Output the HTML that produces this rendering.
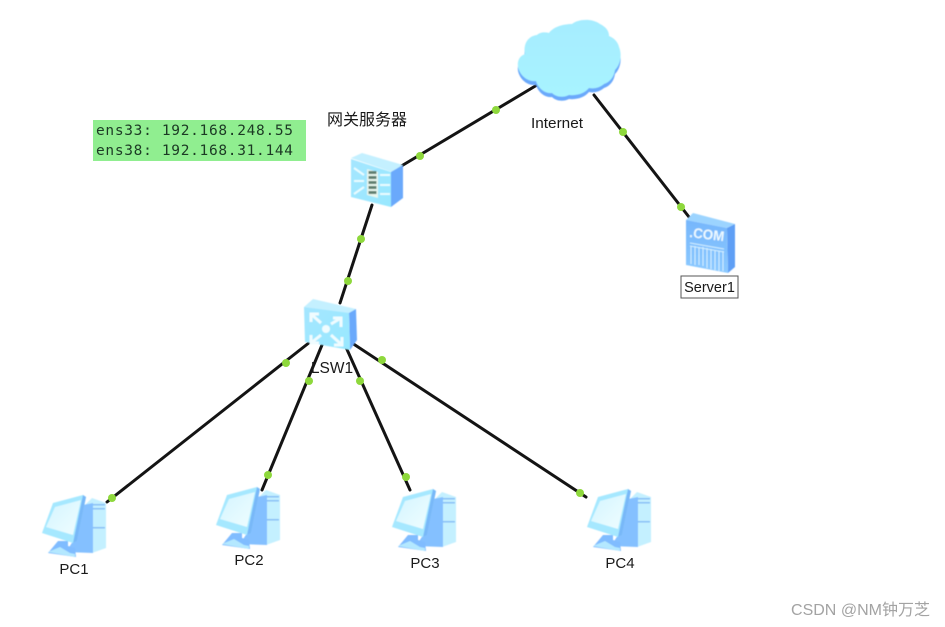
<!DOCTYPE html>
<html>
<head>
<meta charset="utf-8">
<style>
html,body{margin:0;padding:0;background:#fff;width:945px;height:627px;overflow:hidden}
svg{display:block}
text{font-family:"Liberation Sans","Noto Sans CJK SC",sans-serif;fill:#1a1a1a}
</style>
</head>
<body>
<svg width="945" height="627" viewBox="0 0 945 627" xmlns="http://www.w3.org/2000/svg">
<defs>
<linearGradient id="cl" x1="0" y1="0" x2="0" y2="1"><stop offset="0" stop-color="#a6ecff"/><stop offset="1" stop-color="#a8f4ff"/></linearGradient>
<linearGradient id="fr" x1="0" y1="0" x2="1" y2="1"><stop offset="0" stop-color="#a5e6ff"/><stop offset="1" stop-color="#98e8ff"/></linearGradient>
<linearGradient id="sv" x1="0" y1="0" x2="0" y2="1"><stop offset="0" stop-color="#76b6fc"/><stop offset="1" stop-color="#8ccaff"/></linearGradient>
<linearGradient id="scr" x1="0" y1="0" x2="1" y2="1"><stop offset="0" stop-color="#d4f5ff"/><stop offset="1" stop-color="#effdff"/></linearGradient>
<filter id="b"><feGaussianBlur stdDeviation="0.4"/></filter>
<path id="cloud" d="M518 67 C517 60 520 56 525 54 C523 44 528 36 537 35 C540 32 545 32 549 33 C553 27 563 24 572 24 C578 19 592 18 600 24 C606 27 609 31 609 36 C614 38 618 42 619 47 C622 54 621 64 615 70 C614 77 610 82 604 84 C599 88 594 89 589 88 C585 93 577 96 569 95 C563 98 556 97 552 93 C545 94 538 88 536 81 C528 82 520 76 518 67Z"/>
<g id="pc">
  <polygon points="86,504 92,498 106,503 106,548 92,553" fill="#c4f0ff"/>
  <rect x="93" y="504" width="12" height="1.500" fill="#84bdf6"/>
  <rect x="93" y="508" width="12" height="1.500" fill="#84bdf6"/>
  <rect x="93" y="527" width="12" height="1.500" fill="#84bdf6"/>
  <polygon points="83,505 93,503 93,553 66,552 75,538" fill="#84c0ff"/>
  <polygon points="58,541 68,541 68,546 75,548 76,557 48,553" fill="#80bcff"/>
  <polygon points="48,552 60,547 70,553 75,554 75,557" fill="#b4e8ff"/>
  <polygon points="53,503 83,495 86,497 77,541 73,543 42,533" fill="#a6e8ff"/>
  <polygon points="55,507 81,500 73,535 46,527" fill="url(#scr)"/>
  <polygon points="83,495 86,497 77,541 73,543" fill="#78b8f8"/>
</g>
</defs>

<rect width="945" height="627" fill="#fff"/>

<g stroke="#141414" stroke-width="3" fill="none" stroke-linecap="round">
  <line x1="398" y1="168" x2="537" y2="85"/>
  <line x1="594" y1="95" x2="689" y2="217"/>
  <line x1="372" y1="205" x2="340" y2="303"/>
  <line x1="310" y1="342" x2="107" y2="502"/>
  <line x1="322" y1="345" x2="262" y2="490"/>
  <line x1="345" y1="345" x2="410" y2="490"/>
  <line x1="352" y1="343" x2="586" y2="497"/>
</g>

<!-- Cloud -->
<g filter="url(#b)">
  <use href="#cloud" transform="translate(0,4)" fill="#6aa9fb"/>
  <use href="#cloud" fill="url(#cl)"/>
</g>

<!-- Firewall -->
<g filter="url(#b)">
  <polygon points="351,158 362,153 403,165 392,172" fill="#c4f0ff"/>
  <polygon points="391,172 403,165 403,198 391,207" fill="#6aa9fb"/>
  <polygon points="351,159 391,172 391,207 351,197" fill="url(#fr)"/>
  <polygon points="367,169 378,172 378,198 367,195" fill="#e8f6ee"/>
  <g fill="#5f7f70">
    <rect x="368.500" y="171" width="8" height="3"/><rect x="368.500" y="176" width="8" height="3"/><rect x="368.500" y="181" width="8" height="3"/><rect x="368.500" y="186" width="8" height="3"/><rect x="368.500" y="191" width="8" height="3"/>
  </g>
  <g stroke="#eafcff" stroke-width="2" fill="none">
    <path d="M354 168L364 175M354 181H364M354 194L364 187M380 175H390M380 185H390M380 194H390"/>
  </g>
</g>

<!-- Switch -->
<g filter="url(#b)">
  <polygon points="304,307 313,299 356,309 348,314" fill="#c4f0ff"/>
  <polygon points="349,313 356,309 357,340 350,350" fill="#6aa9fb"/>
  <polygon points="304,307 349,313 350,350 305,342" fill="url(#fr)"/>
  <circle cx="326" cy="329" r="4" fill="#f0fcff"/>
  <g stroke="#f0fcff" stroke-width="3" fill="none">
    <path d="M311 314L321 323M311 322V314H319"/>
    <path d="M341 318L331 324M341 327V318H333"/>
    <path d="M311 343L321 335M311 335V343H319"/>
    <path d="M342 345L331 335M342 337V345H334"/>
  </g>
</g>

<!-- Server -->
<g filter="url(#b)">
  <polygon points="686,220 693,213 735,224 727,228" fill="#9cd4ff"/>
  <polygon points="727,228 735,224 735,267 728,273" fill="#5f9ff5"/>
  <polygon points="686,220 727,228 728,273 686,265" fill="url(#sv)"/>
  <g stroke="#d4f0ff" stroke-width="1" fill="none">
    <path d="M690 243L724 249M690 246L724 252"/>
    <path d="M691 246V264M695 246V265M699 247V265M703 247V266M707 248V268M711 249V269M715 250V270M719 251V271M723 251V271"/>
  </g>
  <text x="689" y="237" font-size="14" font-weight="bold" style="fill:#eefaff" transform="rotate(7 689 237)" textLength="35" lengthAdjust="spacingAndGlyphs">.COM</text>
</g>
<rect x="681" y="276" width="57" height="22" fill="#fff" stroke="#555" stroke-width="1"/>
<text x="709.500" y="292" font-size="14.500" text-anchor="middle">Server1</text>

<!-- PCs -->
<use href="#pc" filter="url(#b)"/>
<use href="#pc" transform="translate(174,-8)" filter="url(#b)"/>
<use href="#pc" transform="translate(350,-6)" filter="url(#b)"/>
<use href="#pc" transform="translate(545,-6)" filter="url(#b)"/>

<!-- Link dots -->
<g fill="#8ed83c">
  <circle cx="420" cy="156" r="4"/><circle cx="496" cy="110" r="4"/>
  <circle cx="623" cy="132" r="4"/><circle cx="681" cy="207" r="4"/>
  <circle cx="361" cy="239" r="4"/><circle cx="348" cy="281" r="4"/>
  <circle cx="286" cy="363" r="4"/><circle cx="112" cy="498" r="4"/>
  <circle cx="309" cy="381" r="4"/><circle cx="268" cy="475" r="4"/>
  <circle cx="360" cy="381" r="4"/><circle cx="406" cy="477" r="4"/>
  <circle cx="382" cy="360" r="4"/><circle cx="580" cy="493" r="4"/>
</g>

<!-- Labels -->
<text x="557" y="128" font-size="15" text-anchor="middle" textLength="52" lengthAdjust="spacingAndGlyphs">Internet</text>
<text x="327" y="125" font-size="16" textLength="80">网关服务器</text>
<text x="332" y="373" font-size="15.500" text-anchor="middle">LSW1</text>
<text x="74" y="574" font-size="15" text-anchor="middle">PC1</text>
<text x="249" y="565" font-size="15" text-anchor="middle">PC2</text>
<text x="425" y="568" font-size="15" text-anchor="middle">PC3</text>
<text x="620" y="568" font-size="15" text-anchor="middle">PC4</text>

<!-- Note -->
<rect x="93" y="120" width="213" height="41" fill="#90ee90"/>
<text x="96" y="135" font-size="14.500" style="font-family:'DejaVu Sans Mono','Liberation Mono',monospace;fill:#1c3a24" textLength="197">ens33: 192.168.248.55</text>
<text x="96" y="155" font-size="14.500" style="font-family:'DejaVu Sans Mono','Liberation Mono',monospace;fill:#1c3a24" textLength="197">ens38: 192.168.31.144</text>

<!-- Watermark -->
<text x="791" y="615" font-size="16" style="fill:#a3a3a3" textLength="139">CSDN @NM钟万芝</text>
</svg>
</body>
</html>
